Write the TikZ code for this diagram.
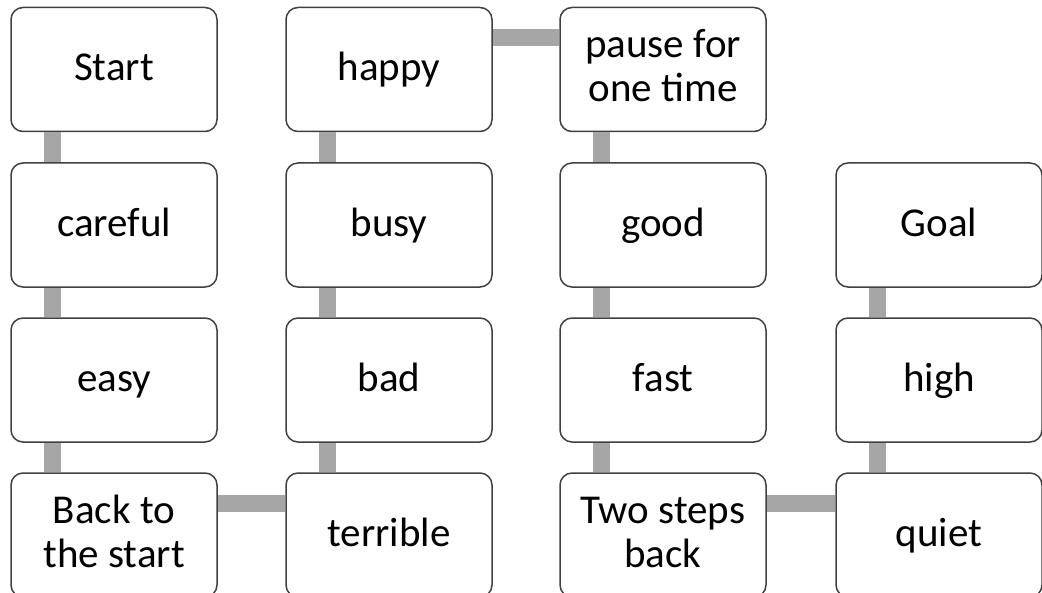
\documentclass[tikz,border=0pt]{standalone}
\usepackage{fontspec}
\setmainfont{Carlito}

\tikzset{
    field/.style={draw=black!75, line width=0.75pt, fill=white, rounded corners=6pt,
        minimum width=103pt, minimum height=62pt, align=center,
        text height=15.5pt, text depth=4pt,
        font=\fontsize{20.5}{22}\selectfont},
    twoline/.style={field, text height=36pt},
    link/.style={draw=black!35, line width=8.5pt}
}

\begin{document}
\begin{tikzpicture}[x=0.5pt, y=-0.5pt]
        \useasboundingbox (0, 0) rectangle (1042, 593);

        \draw node[field] (start) at (114, 69.5) {Start}
            node[field] (careful) at (114, 225) {careful}
            node[field] (easy) at (114, 380) {easy}
            node[twoline] (back) at (114, 535) {Back to\\the start}
            node[field] (happy) at (389, 69.5) {happy}
            node[field] (busy) at (389, 225) {busy}
            node[field] (bad) at (389, 380) {bad}
            node[field] (terrible) at (389, 535) {terrible}
            node[twoline] (pause) at (663, 69.5) {pause for\\one time}
            node[field] (good) at (663, 225) {good}
            node[field] (fast) at (663, 380) {fast}
            node[twoline] (twoback) at (663, 535) {Two steps\\back}
            node[field] (goal) at (939, 225) {Goal}
            node[field] (high) at (939, 380) {high}
            node[field] (quiet) at (939, 535) {quiet};

        % vertical links, near the left side of each box
        \foreach \a/\b in {start/careful, careful/easy, easy/back,
                happy/busy, busy/bad, bad/terrible,
                pause/good, good/fast, fast/twoback,
                goal/high, high/quiet}
            \draw[link] ([xshift=-31pt]\a.south) -- ([xshift=-31pt]\b.north);

        % horizontal links, near the top of each box
        \foreach \a/\b in {back/terrible, happy/pause, twoback/quiet}
            \draw[link] ([yshift=16pt]\a.east) -- ([yshift=16pt]\b.west);
    \end{tikzpicture}
\end{document}
